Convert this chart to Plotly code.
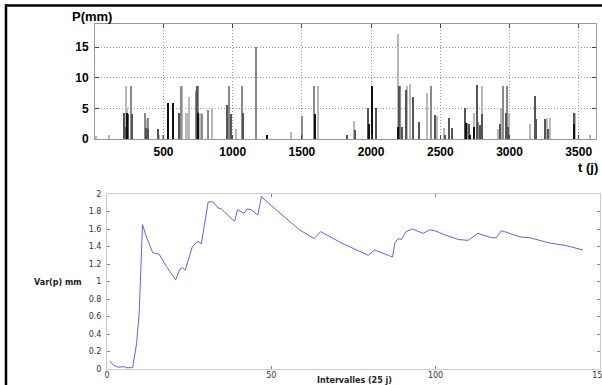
import plotly.graph_objects as go

W, H = 602, 385

# ---- top panel: daily rainfall P(mm) vs t (j) ----
light_days = [14, 105, 230, 240, 380, 469, 500, 634, 660, 672, 683, 760, 770, 854, 977, 1028,
              1420, 1616, 1878, 2008, 2198, 2261, 2280, 2408, 2478, 2530, 2743, 2803, 2916,
              2940, 2995, 3147, 3270, 3290, 3475, 3586]
light_vals = [0.5, 0.7, 8.6, 5.0, 3.3, 0.6, 0.7, 8.6, 4.2, 4.2, 6.9, 4.1, 4.2, 5.0, 4.8, 1.7,
              1.2, 8.6, 3.0, 4.1, 17.2, 8.6, 9.0, 7.5, 3.8, 1.8, 4.3, 8.6, 1.7,
              5.0, 4.2, 2.5, 3.4, 3.4, 4.2, 0.7]

mid_days = [264, 368, 390, 628, 734, 752, 780, 823, 975, 990, 1069, 1172, 1500, 1591, 2210,
            2432, 2692, 2775, 2955, 2986]
mid_vals = [8.6, 4.2, 3.4, 8.6, 7.8, 8.6, 4.1, 4.8, 8.6, 4.0, 8.6, 15.0, 3.8, 8.6, 8.6,
            8.6, 2.6, 2.8, 8.6, 8.6]

dark_days = [214, 221, 246, 270, 275, 372, 392, 459, 611, 615, 741, 958, 985, 1078, 1830,
             1882, 1982, 2039, 2203, 2224, 2251, 2302, 2350, 2466, 2532, 2562, 2586, 2680,
             2711, 2769, 2790, 2805, 2930, 2972, 2990, 3183, 3190, 3258, 3280, 3468]
dark_vals = [4.3, 1.9, 4.1, 4.1, 2.6, 1.8, 1.7, 1.7, 4.3, 2.0, 8.6, 5.5, 4.1, 4.2, 0.6,
             1.4, 5.0, 5.0, 8.6, 2.0, 8.0, 6.9, 2.8, 4.0, 0.7, 3.5, 1.8, 5.0,
             2.5, 8.8, 2.3, 4.1, 2.4, 4.2, 2.0, 7.0, 3.3, 3.3, 1.7, 4.3]

black_days = [236, 532, 572, 748, 1252, 1594, 1988, 2010, 2198, 2684, 2714, 2746, 3470]
black_vals = [4.3, 5.9, 5.9, 4.2, 0.7, 4.1, 2.5, 8.6, 2.0, 2.6, 0.7, 1.9, 2.4]

top_xticks = [500, 1000, 1500, 2000, 2500, 3000, 3500]
top_yticks = [0, 5, 10, 15]

# ---- bottom panel: Var(p) vs Intervalles (25 j) ----
var_x = [0.9, 1.9, 3.4, 5.0, 6.0, 7.8, 9.0, 9.8, 10.8, 12.0, 13.9, 15.9, 18.1, 20.9, 22.2,
         23.0, 23.8, 26.0, 27.7, 28.7, 30.8, 32.3, 33.8, 34.8, 38.4, 38.9, 39.7, 41.7, 42.6,
         43.9, 45.9, 47.0, 49.0, 58.6, 63.1, 65.0, 71.9, 74.9, 79.5, 81.5, 84.0, 86.9, 87.6,
         88.6, 89.6, 91.0, 93.0, 96.2, 98.2, 99.8, 102.3, 106.9, 109.9, 112.9, 117.0, 118.5,
         120.0, 121.0, 125.6, 128.7, 134.7, 139.8, 144.9]
var_y = [0.09, 0.046, 0.02, 0.027, 0.015, 0.015, 0.29, 0.64, 1.65, 1.51, 1.33, 1.31, 1.17,
         1.02, 1.14, 1.16, 1.13, 1.40, 1.46, 1.43, 1.91, 1.91, 1.84, 1.83, 1.70, 1.69, 1.82,
         1.78, 1.83, 1.82, 1.76, 1.97, 1.90, 1.59, 1.49, 1.57, 1.43, 1.38, 1.30, 1.36, 1.32,
         1.28, 1.44, 1.49, 1.48, 1.57, 1.60, 1.55, 1.59, 1.58, 1.54, 1.48, 1.47, 1.55, 1.50,
         1.50, 1.58, 1.57, 1.51, 1.50, 1.44, 1.41, 1.36]
bot_xticks = [0, 50, 100, 150]
bot_yticks = [0, 0.2, 0.4, 0.6, 0.8, 1, 1.2, 1.4, 1.6, 1.8, 2]


def px(x):
    return x / W


def py(y):
    return 1 - y / H


fig = go.Figure()
BW = 9
for days, vals, col in [(light_days, light_vals, "#b8b8b8"),
                        (mid_days, mid_vals, "#8a8a8a"),
                        (dark_days, dark_vals, "#555555"),
                        (black_days, black_vals, "#111111")]:
    fig.add_trace(go.Bar(x=days, y=vals, width=BW, marker=dict(color=col, line=dict(width=0)),
                         xaxis="x", yaxis="y", showlegend=False))

fig.add_trace(go.Scatter(x=var_x, y=var_y, mode="lines", line=dict(color="#6060ff", width=1),
                         xaxis="x2", yaxis="y2", showlegend=False))

topfont = dict(family="Liberation Sans", size=12, color="#000", weight="bold")
botfont = dict(family="DejaVu Sans", size=8, color="#333")

fig.update_layout(
    width=W, height=H, margin=dict(l=0, r=0, t=0, b=0),
    paper_bgcolor="white", plot_bgcolor="white", barmode="overlay", bargap=0,
    xaxis=dict(domain=[px(95), px(596)], range=[5, 3625], tickvals=top_xticks,
               ticks="inside", ticklen=4, tickcolor="#444", showline=True, linecolor="#999",
               mirror="ticks", showgrid=True, gridcolor="#999", griddash="1px,2px", gridwidth=1,
               zeroline=False, tickfont=topfont, anchor="y", automargin=False,
               ticklabelstandoff=2),
    yaxis=dict(domain=[py(139), py(24)], range=[0, 18.8], tickvals=top_yticks,
               ticks="inside", ticklen=4, tickcolor="#444", showline=True, linecolor="#999",
               mirror="ticks", showgrid=True, gridcolor="#999", griddash="1px,2px", gridwidth=1,
               zeroline=False, tickfont=topfont, anchor="x", automargin=False,
               ticklabelstandoff=3),
    xaxis2=dict(domain=[px(107), px(600)], range=[0, 150.05], tickvals=bot_xticks,
                ticktext=["0", "50", "100", "150"], ticklabeloverflow="allow",
                ticks="inside", ticklen=3, tickcolor="#888", showline=True, linecolor="#cccccc",
                mirror="ticks", showgrid=False, zeroline=False, tickfont=botfont,
                anchor="y2", automargin=False, ticklabelstandoff=-2),
    yaxis2=dict(domain=[py(369), py(194)], range=[0, 2], tickvals=bot_yticks,
                ticktext=["0", "0.2", "0.4", "0.6", "0.8", "1", "1.2", "1.4", "1.6", "1.8", "2"],
                ticks="inside", ticklen=3, tickcolor="#888", showline=True, linecolor="#cccccc",
                mirror="ticks", showgrid=False, zeroline=False, tickfont=botfont,
                anchor="x2", automargin=False, ticklabelstandoff=3),
)

fig.add_annotation(x=px(92), y=py(16), xref="paper", yref="paper", text="P(mm)",
                   showarrow=False, xanchor="center", yanchor="middle",
                   font=dict(family="Liberation Sans", size=13, color="#000", weight="bold"))
fig.add_annotation(x=px(600), y=py(167), xref="paper", yref="paper", text="t (j)",
                   showarrow=False, xanchor="right", yanchor="middle",
                   font=dict(family="Liberation Sans", size=13, color="#000", weight="bold"))
fig.add_annotation(x=px(58), y=py(282), xref="paper", yref="paper", text="Var(p) mm",
                   showarrow=False, xanchor="center", yanchor="middle",
                   font=dict(family="DejaVu Sans", size=8, color="#222", weight="bold"))
fig.add_annotation(x=px(354), y=py(380), xref="paper", yref="paper", text="Intervalles (25 j)",
                   showarrow=False, xanchor="center", yanchor="middle",
                   font=dict(family="DejaVu Sans", size=8, color="#222", weight="bold"))

# outer black frame (top and left edges)
fig.add_shape(type="line", xref="paper", yref="paper", x0=px(5), x1=1, y0=py(5.5), y1=py(5.5),
              line=dict(color="black", width=2.5))
fig.add_shape(type="line", xref="paper", yref="paper", x0=px(6), x1=px(6), y0=py(4.5), y1=0,
              line=dict(color="black", width=2.5))

fig.write_html("out.html", config={"displayModeBar": False},
               post_script="document.body.style.margin='0px';document.body.style.overflow='hidden';")
